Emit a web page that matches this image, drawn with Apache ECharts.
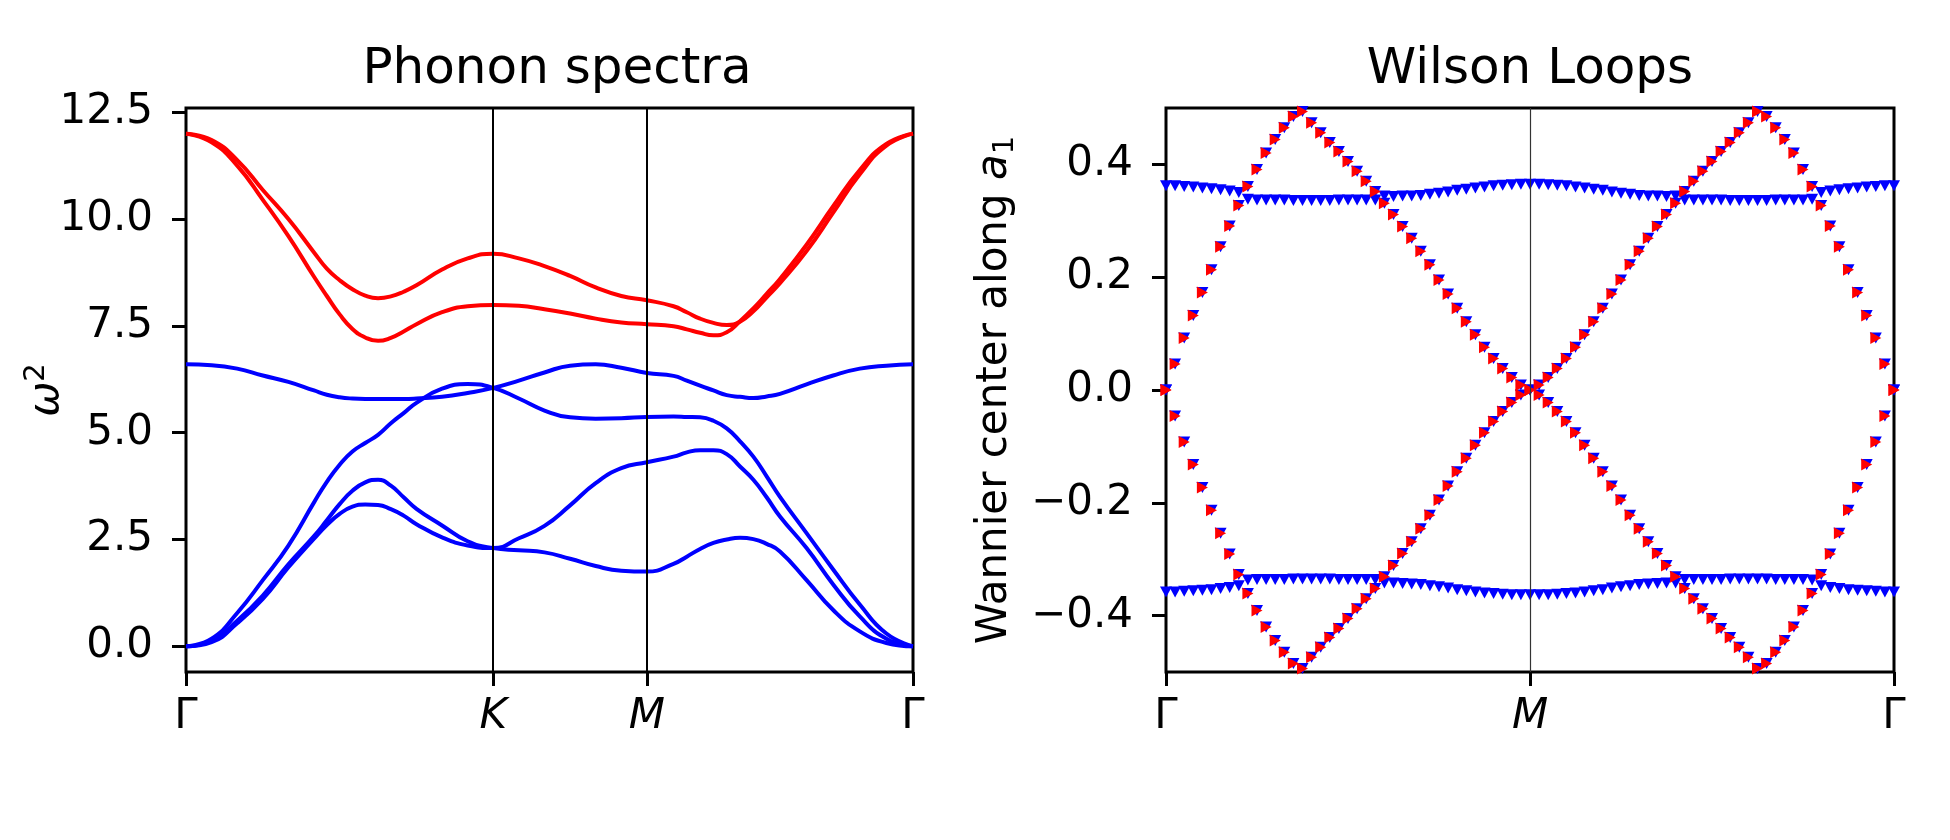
<!DOCTYPE html>
<html>
<head>
<meta charset="utf-8">
<script src="https://cdn.jsdelivr.net/npm/echarts@6/dist/echarts.min.js"></script>
<style>
html, body { margin: 0; padding: 0; background: #fff; }
#main { width: 1950px; height: 840px; }
</style>
</head>
<body>
<div id="main"></div>
<script>
// ---- phonon spectra (left) ----
var kDist = [0, 0.1111, 0.2222, 0.3333, 0.4444, 0.5556, 0.6111, 0.6667, 0.7222, 0.7778, 0.8333, 0.8889, 0.9444,
             1.0, 1.1111, 1.2222, 1.3333,
             1.4444, 1.5556, 1.6667, 1.7778, 1.8889, 2.0,
             2.1155, 2.1732, 2.2309, 2.2887, 2.3464, 2.4041, 2.4619, 2.5196, 2.5774,
             2.6928, 2.8083, 2.9238, 3.0392, 3.1547];
var hsPos = [0, 1.3333, 2.0, 3.1547];
var hsLabels = ['Γ', 'K', 'M', 'Γ'];
var vLines = [1.3333, 2.0];
var yTicksL = [0, 2.5, 5, 7.5, 10, 12.5];

var red2 = [12.0, 11.85, 11.38, 10.68, 10.0, 9.22, 8.84, 8.57, 8.36, 8.21, 8.15, 8.19, 8.3,
            8.45, 8.82, 9.08, 9.19,
            9.08, 8.9, 8.67, 8.4, 8.2, 8.1,
            7.96, 7.82, 7.67, 7.57, 7.52, 7.6, 7.84, 8.17, 8.5,
            9.25, 10.15, 11.05, 11.72, 12.0];
var red1 = [12.0, 11.8, 11.25, 10.45, 9.6, 8.65, 8.2, 7.77, 7.43, 7.23, 7.15, 7.22, 7.37,
            7.54, 7.82, 7.96, 7.99,
            7.97, 7.89, 7.79, 7.67, 7.58, 7.54,
            7.49, 7.42, 7.34, 7.28, 7.35, 7.61, 7.91, 8.25, 8.6,
            9.4, 10.3, 11.15, 11.76, 12.0];
var blue4 = [6.6, 6.58, 6.5, 6.34, 6.19, 5.99, 5.89, 5.83, 5.8, 5.79, 5.79, 5.79, 5.79,
             5.8, 5.84, 5.93, 6.05,
             6.22, 6.41, 6.57, 6.6, 6.52, 6.4,
             6.33, 6.22, 6.1, 5.99, 5.88, 5.84, 5.81, 5.85, 5.91,
             6.13, 6.34, 6.5, 6.57, 6.6];
var blue3 = [0, 0.18, 0.78, 1.55, 2.36, 3.37, 3.85, 4.25, 4.56, 4.76, 4.95, 5.22, 5.46,
             5.7, 6.03, 6.14, 6.05,
             5.8, 5.52, 5.36, 5.33, 5.34, 5.37,
             5.38, 5.37, 5.36, 5.28, 5.1, 4.8, 4.44, 3.98, 3.5,
             2.65, 1.8, 0.98, 0.3, 0];
var blue2 = [0, 0.13, 0.6, 1.19, 1.92, 2.58, 2.95, 3.33, 3.64, 3.84, 3.9, 3.76, 3.49,
             3.22, 2.83, 2.46, 2.3,
             2.25, 2.2, 2.05, 1.88, 1.77, 1.75,
             1.93, 2.1, 2.28, 2.42, 2.5, 2.54, 2.51, 2.4, 2.22,
             1.55, 0.85, 0.35, 0.08, 0];
var blue1 = [0, 0.1, 0.54, 1.11, 1.85, 2.52, 2.84, 3.1, 3.27, 3.32, 3.31, 3.21, 3.06,
             2.86, 2.55, 2.36, 2.3,
             2.53, 2.82, 3.3, 3.82, 4.17, 4.31,
             4.44, 4.54, 4.59, 4.59, 4.5, 4.21, 3.9, 3.49, 3.04,
             2.3, 1.45, 0.7, 0.18, 0];

// ---- wilson loops (right), one value per k point, Γ - M - Γ ----
var wlTickPos = [0, 40, 80];
var wlTickLabels = ['Γ', 'M', 'Γ'];
var yTicksR = [-0.4, -0.2, 0, 0.2, 0.4];

var diag1 = [0, 0.046, 0.092, 0.132, 0.173, 0.213, 0.254, 0.291, 0.327, 0.361, 0.391, 0.420, 0.444, 0.465, 0.485, 0.494,
             0.474, 0.456, 0.439, 0.423, 0.405, 0.388, 0.370, 0.352, 0.331, 0.311, 0.290, 0.269, 0.246, 0.222, 0.195,
             0.170, 0.145, 0.121, 0.098, 0.076, 0.056, 0.038, 0.022, 0.009, 0,
             -0.009, -0.022, -0.038, -0.056, -0.076, -0.098, -0.121, -0.145, -0.170, -0.195, -0.222, -0.246, -0.269,
             -0.290, -0.311, -0.331, -0.352, -0.370, -0.388, -0.405, -0.423, -0.439, -0.456, -0.474,
             -0.494, -0.485, -0.465, -0.444, -0.420, -0.391, -0.361, -0.327, -0.291, -0.254, -0.213, -0.173, -0.132,
             -0.092, -0.046, 0];
var diag2 = [0, -0.046, -0.092, -0.132, -0.173, -0.213, -0.254, -0.291, -0.327, -0.361, -0.391, -0.420, -0.444, -0.465, -0.485, -0.494,
             -0.474, -0.456, -0.439, -0.423, -0.405, -0.388, -0.370, -0.352, -0.331, -0.311, -0.290, -0.269, -0.246, -0.222, -0.195,
             -0.170, -0.145, -0.121, -0.098, -0.076, -0.056, -0.038, -0.022, -0.009, 0,
             0.009, 0.022, 0.038, 0.056, 0.076, 0.098, 0.121, 0.145, 0.170, 0.195, 0.222, 0.246, 0.269,
             0.290, 0.311, 0.331, 0.352, 0.370, 0.388, 0.405, 0.423, 0.439, 0.456, 0.474,
             0.494, 0.485, 0.465, 0.444, 0.420, 0.391, 0.361, 0.327, 0.291, 0.254, 0.213, 0.173, 0.132,
             0.092, 0.046, 0];
var flatTop = [0.362, 0.362, 0.361, 0.360, 0.358, 0.357, 0.355, 0.353, 0.350, 0.338,
               0.337, 0.337, 0.337, 0.337, 0.336, 0.336, 0.336, 0.336, 0.336, 0.337, 0.337, 0.337, 0.337, 0.337,
               0.344, 0.343, 0.344, 0.344, 0.345, 0.347, 0.349, 0.351, 0.354, 0.356, 0.358, 0.360, 0.362, 0.363, 0.364, 0.365,
               0.365,
               0.365, 0.364, 0.363, 0.362, 0.360, 0.358, 0.356, 0.354, 0.351, 0.349, 0.347, 0.345, 0.344, 0.344, 0.343, 0.344,
               0.337, 0.337, 0.337, 0.337, 0.337, 0.336, 0.336, 0.336, 0.336, 0.336, 0.337, 0.337, 0.337, 0.337,
               0.338, 0.350, 0.353, 0.355, 0.357, 0.358, 0.360, 0.361, 0.362, 0.362];
var flatBot = [-0.358, -0.358, -0.357, -0.356, -0.355, -0.354, -0.352, -0.350, -0.347, -0.337,
               -0.336, -0.336, -0.336, -0.336, -0.335, -0.335, -0.335, -0.335, -0.335, -0.336, -0.336, -0.336, -0.336, -0.336,
               -0.342, -0.342, -0.343, -0.344, -0.345, -0.347, -0.349, -0.351, -0.354, -0.356, -0.358, -0.360, -0.361, -0.362, -0.363, -0.363,
               -0.363,
               -0.363, -0.363, -0.362, -0.361, -0.360, -0.358, -0.356, -0.354, -0.351, -0.349, -0.347, -0.345, -0.344, -0.343, -0.342, -0.342,
               -0.336, -0.336, -0.336, -0.336, -0.336, -0.335, -0.335, -0.335, -0.335, -0.335, -0.336, -0.336, -0.336, -0.336,
               -0.337, -0.347, -0.350, -0.352, -0.354, -0.355, -0.356, -0.357, -0.358, -0.358];

var FONT = 'DejaVu Sans';
var FS = 42;
var symDown = 'path://M0,0L2,0L1,2Z';
var symRight = 'path://M0,0L2,1L0,2Z';

function pairs(xs, ys) {
    return ys.map(function (v, i) { return [xs[i], v]; });
}
function indexed(ys) {
    return ys.map(function (v, i) { return [i, v]; });
}
function tickName(pos, labels) {
    return function (v) {
        for (var i = 0; i < pos.length; i++) {
            if (Math.abs(pos[i] - v) < 1e-6) {
                return labels[i] === 'Γ' ? '{up|Γ}' : '{it|' + labels[i] + '}';
            }
        }
        return '';
    };
}
function numLabel(v) {
    return v.toFixed(1).replace('-', '\u2212');
}

var labelRich = {
    up: { fontFamily: FONT, fontSize: FS, color: '#000' },
    it: { fontFamily: FONT, fontSize: FS, fontStyle: 'italic', color: '#000' }
};

function bandLine(name, ys, color) {
    return {
        name: name,
        type: 'line',
        xAxisIndex: 0,
        yAxisIndex: 0,
        data: pairs(kDist, ys),
        showSymbol: false,
        smooth: 0.5,
        silent: true,
        z: 3,
        lineStyle: { color: color, width: 4 }
    };
}

function wlScatter(name, ys, color, sym, size, z) {
    return {
        name: name,
        type: 'scatter',
        xAxisIndex: 1,
        yAxisIndex: 1,
        data: indexed(ys),
        symbol: sym,
        symbolSize: size,
        silent: true,
        z: z,
        itemStyle: { color: color, opacity: 1 }
    };
}

var dom = document.getElementById('main');
var myChart = echarts.init(dom, null, { renderer: 'canvas' });

var series = [
    bandLine('b1', blue1, '#0000ff'),
    bandLine('b2', blue2, '#0000ff'),
    bandLine('b3', blue3, '#0000ff'),
    bandLine('b4', blue4, '#0000ff'),
    bandLine('r1', red1, '#ff0000'),
    bandLine('r2', red2, '#ff0000'),
    wlScatter('ft', flatTop, '#0000ff', symDown, [12, 11], 3),
    wlScatter('fb', flatBot, '#0000ff', symDown, [12, 11], 3),
    wlScatter('d1b', diag1, '#0000ff', symDown, [12, 11], 3),
    wlScatter('d2b', diag2, '#0000ff', symDown, [12, 11], 3),
    wlScatter('d1r', diag1, '#ff0000', symRight, [11, 12], 4),
    wlScatter('d2r', diag2, '#ff0000', symRight, [11, 12], 4)
];

// vertical lines at high-symmetry points
series[5].markLine = {
    silent: true,
    symbol: 'none',
    label: { show: false },
    lineStyle: { color: '#000', width: 2, type: 'solid' },
    data: vLines.map(function (v) { return { xAxis: v }; })
};
series[6].markLine = {
    silent: true,
    symbol: 'none',
    label: { show: false },
    lineStyle: { color: '#333', width: 1.2, type: 'solid' },
    data: [{ xAxis: wlTickPos[1] }]
};

function xAxisOf(idx, max, pos, labels) {
    return {
        type: 'value', gridIndex: idx, min: 0, max: max,
        axisLine: { show: false, onZero: false },
        splitLine: { show: false },
        axisTick: { show: true, inside: false, length: 14, customValues: pos, lineStyle: { color: '#000', width: 3 } },
        axisLabel: { customValues: pos, margin: 24, showMinLabel: true, showMaxLabel: true,
                     formatter: tickName(pos, labels), rich: labelRich }
    };
}

option = {
    backgroundColor: '#fff',
    animation: false,
    title: [
        {
            text: 'Phonon spectra',
            left: 557, top: 45, textAlign: 'center', padding: 0,
            textStyle: { fontFamily: FONT, fontSize: 50, fontWeight: 'normal', color: '#000' }
        },
        {
            text: 'Wilson Loops',
            left: 1530, top: 45, textAlign: 'center', padding: 0,
            textStyle: { fontFamily: FONT, fontSize: 50, fontWeight: 'normal', color: '#000' }
        }
    ],
    grid: [
        { left: 186, top: 108, width: 727, height: 564, show: true, borderColor: '#000', borderWidth: 3,
          backgroundColor: 'transparent', containLabel: false, outerBoundsMode: 'none' },
        { left: 1166, top: 108, width: 728, height: 564, show: true, borderColor: '#000', borderWidth: 3,
          backgroundColor: 'transparent', containLabel: false, outerBoundsMode: 'none' }
    ],
    xAxis: [
        xAxisOf(0, 3.1547, hsPos, hsLabels),
        xAxisOf(1, 80, wlTickPos, wlTickLabels)
    ],
    yAxis: [
        {
            type: 'value', gridIndex: 0, min: -0.6, max: 12.6,
            axisLine: { show: false, onZero: false },
            splitLine: { show: false },
            axisTick: { show: true, length: 14, customValues: yTicksL, lineStyle: { color: '#000', width: 3 } },
            axisLabel: { customValues: yTicksL, margin: 33, formatter: numLabel,
                         fontFamily: FONT, fontSize: FS, color: '#000' },
            name: '{it|ω}{sup|2}',
            nameLocation: 'middle',
            nameRotate: 90,
            nameGap: 114,
            nameMoveOverlap: false,
            nameTextStyle: {
                rich: {
                    it: { fontFamily: FONT, fontSize: FS, fontStyle: 'italic', color: '#000', lineHeight: 50, verticalAlign: 'middle' },
                    sup: { fontFamily: FONT, fontSize: 29, color: '#000', lineHeight: 29, verticalAlign: 'top' }
                }
            }
        },
        {
            type: 'value', gridIndex: 1, min: -0.5, max: 0.5,
            axisLine: { show: false, onZero: false },
            splitLine: { show: false },
            axisTick: { show: true, length: 14, customValues: yTicksR, lineStyle: { color: '#000', width: 3 } },
            axisLabel: { customValues: yTicksR, margin: 33, formatter: numLabel,
                         fontFamily: FONT, fontSize: FS, color: '#000' },
            name: '{up|Wannier center along }{it|a}{sub|1}',
            nameLocation: 'middle',
            nameRotate: 90,
            nameGap: 146,
            nameMoveOverlap: false,
            nameTextStyle: {
                rich: {
                    up: { fontFamily: FONT, fontSize: FS, color: '#000', lineHeight: 50, verticalAlign: 'middle' },
                    it: { fontFamily: FONT, fontSize: FS, fontStyle: 'italic', color: '#000', lineHeight: 50, verticalAlign: 'middle' },
                    sub: { fontFamily: FONT, fontSize: 29, color: '#000', lineHeight: 29, verticalAlign: 'bottom' }
                }
            }
        }
    ],
    series: series
};

if (option && typeof option === "object") {
    myChart.setOption(option, true);
}
</script>
</body>
</html>
